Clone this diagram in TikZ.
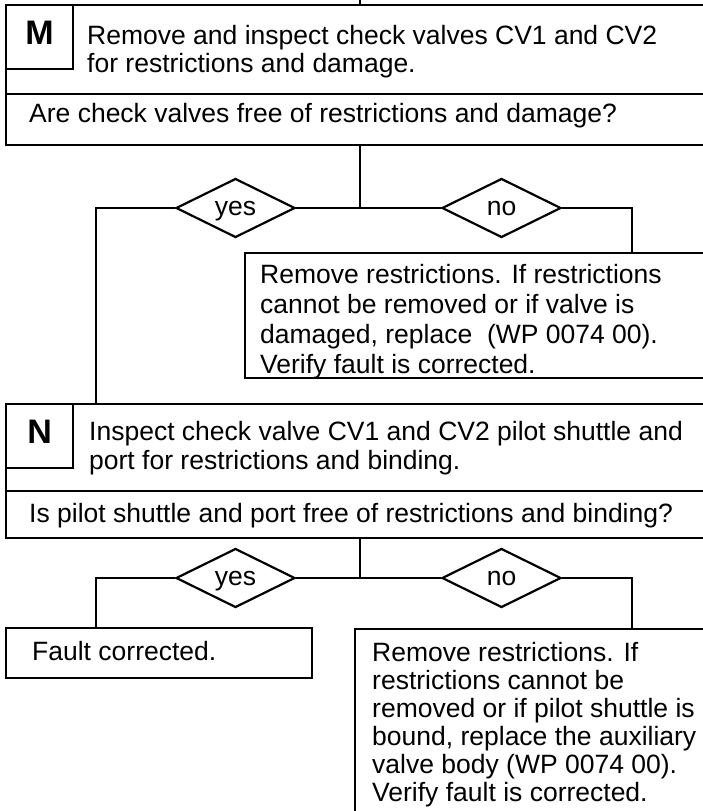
\documentclass[tikz,border=0pt]{standalone}
\usepackage{fontspec}
\setmainfont{Liberation Sans}
\usetikzlibrary{shapes.geometric}

\tikzset{
  stepbox/.style={draw, line width=2.2pt, anchor=north west, inner sep=0pt},
  tagbox/.style={stepbox, minimum width=67pt, minimum height=64pt, text depth=9pt,
    font=\fontsize{34}{34}\selectfont\bfseries},
  steptext/.style={anchor=north west, inner sep=0pt, align=left},
  answer/.style={draw, line width=2.2pt, diamond, aspect=2, inner sep=0pt,
    text height=14pt, text depth=0pt, minimum width=119pt, minimum height=59pt},
  link/.style={line width=2.2pt},
}

\begin{document}
\begin{tikzpicture}[x=1pt, y=-1pt, font=\fontsize{26.5}{29}\selectfont]
  \useasboundingbox (0,0) rectangle (703,811);
  \clip (0,0) rectangle (703,811);

  % step M
  \node[stepbox, minimum width=707pt, minimum height=89pt] (mbox) at (5,4) {};
  \node[tagbox] (mtag) at (5,4) {M};
  \node[stepbox, minimum width=707pt, minimum height=51pt] (mask) at (5,93) {};
  \node[steptext, font=\fontsize{26.5}{28}\selectfont] (mtext) at (87,25) {Remove and inspect check valves CV1 and CV2\\for restrictions and damage.};
  \node[steptext] (mquest) at (29,103) {Are check valves free of restrictions and damage?};

  \node[answer] (myes) at (235.5,208) {yes};
  \node[answer] (mno) at (501.5,208) {no};
  \coordinate (mfork) at (mask.south |- myes);
  \coordinate (mleft) at (96,208);
  \coordinate (mright) at (632,208);

  \node[stepbox, minimum width=468pt, minimum height=125pt] (mfix) at (244,252) {};
  \node[steptext, font=\fontsize{26.5}{30}\selectfont] (mfixtext) at (260,264) {Remove restrictions. If restrictions\\cannot be removed or if valve is\\damaged, replace\ \ (WP 0074 00).\\Verify fault is corrected.};

  % step N
  \node[stepbox, minimum width=707pt, minimum height=87pt] (nbox) at (5,403) {};
  \node[tagbox] (ntag) at (5,403) {N};
  \node[stepbox, minimum width=707pt, minimum height=47pt] (nask) at (5,490) {};
  \node[steptext] (ntext) at (89,421) {Inspect check valve CV1 and CV2 pilot shuttle and\\port for restrictions and binding.};
  \node[steptext] (nquest) at (29,503) {Is pilot shuttle and port free of restrictions and binding?};

  \node[answer] (nyes) at (235.5,578) {yes};
  \node[answer] (nno) at (501.5,578) {no};
  \coordinate (nfork) at (nask.south |- nyes);
  \coordinate (nleft) at (96,578);
  \coordinate (nright) at (632,578);

  \node[stepbox, minimum width=306pt, minimum height=50pt] (nfault) at (5,627) {};
  \node[steptext] (nfaulttext) at (32,641) {Fault corrected.};
  \node[stepbox, minimum width=358pt, minimum height=200pt] (nfix) at (354,628) {};
  \node[steptext, font=\fontsize{26.5}{28}\selectfont] (nfixtext) at (372,642) {Remove restrictions. If\\restrictions cannot be\\removed or if pilot shuttle is\\bound, replace the auxiliary\\valve body (WP 0074 00).\\Verify fault is corrected.};

  % connectors
  \coordinate (entry) at (mbox.north |- 0,-5);
  \draw[link] (entry) -- (mbox.north);
  \draw[link] (mask.south) -- (mfork);
  \draw[link] (myes.east) -- (mno.west);
  \draw[link] (myes.west) -- (mleft) -- (mleft |- nbox.north);
  \draw[link] (mno.east) -- (mright) -- (mright |- mfix.north);

  \draw[link] (nask.south) -- (nfork);
  \draw[link] (nyes.east) -- (nno.west);
  \draw[link] (nyes.west) -- (nleft) -- (nleft |- nfault.north);
  \draw[link] (nno.east) -- (nright) -- (nright |- nfix.north);
\end{tikzpicture}
\end{document}
